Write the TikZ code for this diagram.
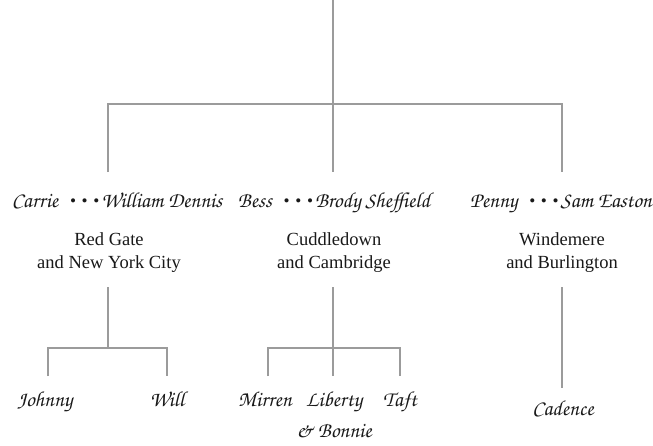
\documentclass[tikz,border=0pt]{standalone}
\usepackage{fontspec}
\setmainfont{Liberation Serif}
\newfontfamily\namefont{TeX Gyre Chorus}
\definecolor{linegray}{RGB}{155,155,155}
\definecolor{txt}{RGB}{25,25,25}
\newcommand\tripdot{\hspace{10pt}\raisebox{2pt}{\fontsize{12}{12}\selectfont•\hspace{4.5pt}•\hspace{4.5pt}•}\hspace{2.5pt}}
\begin{document}
\begin{tikzpicture}[x=1pt,y=-1pt,
  conn/.style={draw=linegray,line width=1.2pt},
  person/.style={font=\namefont\fontsize{21.5}{31}\selectfont,text=txt,inner sep=0pt,anchor=base,align=center},
  place/.style={font=\fontsize{18.5}{23}\selectfont,text=txt,inner sep=0pt,align=center}]
\useasboundingbox[fill=white] (0,0) rectangle (653,445);
% top level
\coordinate (top) at (333,0);
\coordinate (j0) at (333,104);
\coordinate (h1) at (108,104);
\coordinate (h3) at (562,104);
\coordinate (a1) at (108,172);
\coordinate (a2) at (333,172);
\coordinate (a3) at (562,172);
\draw[conn] (top) -- (j0);
\draw[conn] (a1) -- (h1) -- (h3) -- (a3);
\draw[conn] (j0) -- (a2);
% couples
\node[person] (c1) at (117,207) {Carrie\tripdot William Dennis};
\node[person] (c2) at (334,207) {Bess\tripdot Brody Sheffield};
\node[person] (c3) at (561,207) {Penny\tripdot Sam Easton};
\node[place] (p1) at (109,253) {Red Gate\\and New York City};
\node[place] (p2) at (334,253) {Cuddledown\\and Cambridge};
\node[place] (p3) at (562,253) {Windemere\\and Burlington};
% family 1 children
\coordinate (b1) at (108,287);
\coordinate (k1) at (108,348);
\coordinate (l1) at (48,348);
\coordinate (r1) at (167,348);
\coordinate (l1e) at (48,376);
\coordinate (r1e) at (167,376);
\draw[conn] (b1) -- (k1);
\draw[conn] (l1e) -- (l1) -- (r1) -- (r1e);
\node[person] (johnny) at (45,406) {Johnny};
\node[person] (will) at (167,406) {Will};
% family 2 children
\coordinate (b2) at (333,287);
\coordinate (m2e) at (333,376);
\coordinate (l2) at (268,348);
\coordinate (r2) at (400,348);
\coordinate (l2e) at (268,376);
\coordinate (r2e) at (400,376);
\draw[conn] (b2) -- (m2e);
\draw[conn] (l2e) -- (l2) -- (r2) -- (r2e);
\node[person] (mirren) at (265,406) {Mirren};
\node[person] (liberty) at (334,437) {Liberty\\\& Bonnie};
\node[person] (taft) at (400,406) {Taft};
% family 3 child
\coordinate (b3) at (562,287);
\coordinate (m3e) at (562,388);
\draw[conn] (b3) -- (m3e);
\node[person] (cadence) at (563,415) {Cadence};
\end{tikzpicture}
\end{document}
